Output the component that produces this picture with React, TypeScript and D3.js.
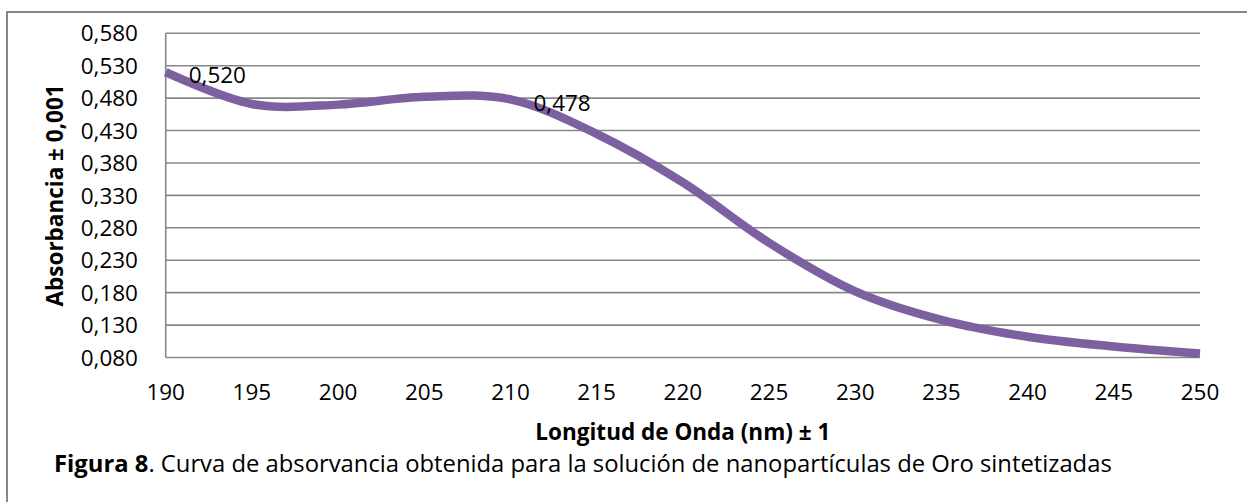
import React from 'react';
import * as d3 from 'd3';

// wavelength (nm) and absorbance at every 5 nm
const wavelengths = [190, 195, 200, 205, 210, 215, 220, 225, 230, 235, 240, 245, 250];
const absorbance = [0.52, 0.471, 0.47, 0.482, 0.478, 0.425, 0.35, 0.257, 0.182, 0.138, 0.112, 0.097, 0.086];
const labelled = [190, 210];
const yTicks = [0.08, 0.13, 0.18, 0.23, 0.28, 0.33, 0.38, 0.43, 0.48, 0.53, 0.58];
const xTicks = [190, 195, 200, 205, 210, 215, 220, 225, 230, 235, 240, 245, 250];

const W = 1247;
const H = 502;
const left = 165.7;
const right = 1200;
const top = 33.3;
const bottom = 357.5;
const font = '"Open Sans", sans-serif';
const grey = '#878787';
const purple = '#7D60A0';

const fmt = (v: number) => d3.format('.3f')(v).replace('.', ',');

export default function App() {
  const x = d3.scaleLinear().domain([190, 250]).range([left, right]);
  const y = d3.scaleLinear().domain([0.08, 0.58]).range([bottom, top]);

  const points = wavelengths.map((w, i) => ({ w, v: absorbance[i] }));
  const line = d3
    .line<{ w: number; v: number }>()
    .x((d) => x(d.w))
    .y((d) => y(d.v))
    .curve(d3.curveCardinal.tension(0));

  return (
    <svg width={W} height={H} style={{ position: 'absolute', left: 0, top: 0, background: '#fff' }}>
      {/* outer frame, runs off the right and bottom edge */}
      <rect x={7} y={12} width={W + 20} height={H + 20} fill="#fff" stroke={grey} strokeWidth={2} />

      {/* gridlines */}
      {yTicks.map((t) => (
        <line key={t} x1={left} x2={right} y1={y(t)} y2={y(t)} stroke={grey} strokeWidth={1.6} />
      ))}
      <line x1={left} x2={left} y1={top} y2={bottom} stroke={grey} strokeWidth={1.6} />

      {/* y tick labels */}
      {yTicks.map((t) => (
        <text key={t} x={138} y={y(t)} dy="0.36em" textAnchor="end" fontFamily={font} fontSize={22.5} fill="#000">
          {fmt(t)}
        </text>
      ))}

      {/* x tick labels */}
      {xTicks.map((t) => (
        <text key={t} x={x(t)} y={400} textAnchor="middle" fontFamily={font} fontSize={22.5} fill="#000">
          {t}
        </text>
      ))}

      {/* series */}
      <path d={line(points) || ''} fill="none" stroke={purple} strokeWidth={8.5} />

      {/* data labels */}
      {points
        .filter((d) => labelled.includes(d.w))
        .map((d) => (
          <text key={d.w} x={x(d.w) + 23} y={y(d.v) + 3} dy="0.36em" fontFamily={font} fontSize={22.5} fill="#000">
            {fmt(d.v)}
          </text>
        ))}

      {/* axis titles */}
      <text
        transform={`translate(63,${(top + bottom) / 2}) rotate(-90)`}
        textAnchor="middle"
        fontFamily={font}
        fontWeight="bold"
        fontSize={22.5}
        fill="#000"
      >
        Absorbancia ± 0,001
      </text>
      <text x={(left + right) / 2} y={439.5} textAnchor="middle" fontFamily={font} fontWeight="bold" fontSize={22.5} fill="#000">
        Longitud de Onda (nm) ± 1
      </text>

      {/* caption */}
      <text x={54} y={472} fontFamily={font} fontSize={23.8} fill="#000">
        <tspan fontWeight="bold">Figura 8</tspan>. Curva de absorvancia obtenida para la solución de nanopartículas de Oro sintetizadas
      </text>
    </svg>
  );
}
